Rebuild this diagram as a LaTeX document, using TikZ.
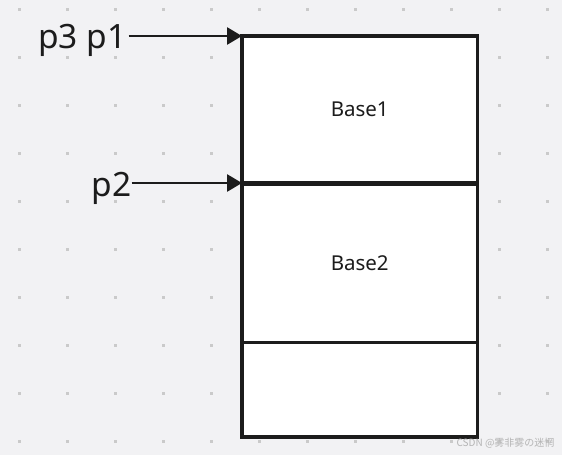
\documentclass[tikz,border=0pt]{standalone}
\usepackage{fontspec}
\setmainfont{Noto Sans}
\newfontfamily\cjk{Noto Sans CJK SC}
\usepackage{tikz}
\usetikzlibrary{positioning, arrows.meta}
\definecolor{bgpaper}{HTML}{F2F2F4}
\definecolor{griddot}{HTML}{CACACA}
\definecolor{ink}{HTML}{1C1C1C}
\definecolor{wmark}{HTML}{B4B4B4}

\begin{document}
\begin{tikzpicture}[
  x=1pt, y=-1pt,
  every node/.style={text=ink},
  cell/.style={draw=ink, line width=3.5pt, fill=white, inner sep=0pt, outer sep=0pt,
               minimum width=235.5pt, font=\fontsize{20.5}{22}\selectfont},
  ptr/.style={font=\fontsize{33.5}{36}\selectfont, inner sep=2pt},
  arr/.style={-{Triangle[length=15pt, width=17pt]}, line width=2.8pt, draw=ink}
]
\fill[bgpaper] (0,0) rectangle (562,455);
\useasboundingbox (0,0) rectangle (562,455);
\foreach \i in {0,...,11}
  \foreach \j in {0,...,9}
    \fill[griddot] (19+48*\i-1.5, 9+48*\j-1.5) rectangle ++(3,3);

\node[cell, minimum height=147pt] (base1) at (359.75,109.5) {Base1};
\node[cell, minimum height=159.5pt, below=0pt of base1] (base2) {Base2};
\node[cell, minimum height=94.5pt, below=0pt of base2] (rest) {};
\draw[ink, line width=5pt] (base1.south west) -- (base1.south east);

\node[ptr, anchor=base east] (p1) at (128.5,48) {p3 p1};
\node[ptr, anchor=base east, inner sep=0pt] (p2) at (131.5,196.5) {p2};
\draw[arr] (p1.east |- base1.north west) -- (base1.north west);
\draw[arr] (p2.east |- base2.north west) -- (base2.north west);

\node[font=\cjk\fontsize{10}{12}\selectfont, text=wmark, anchor=east] (wm) at (558,443) {CSDN @雾非雾の迷惘};
\end{tikzpicture}
\end{document}
